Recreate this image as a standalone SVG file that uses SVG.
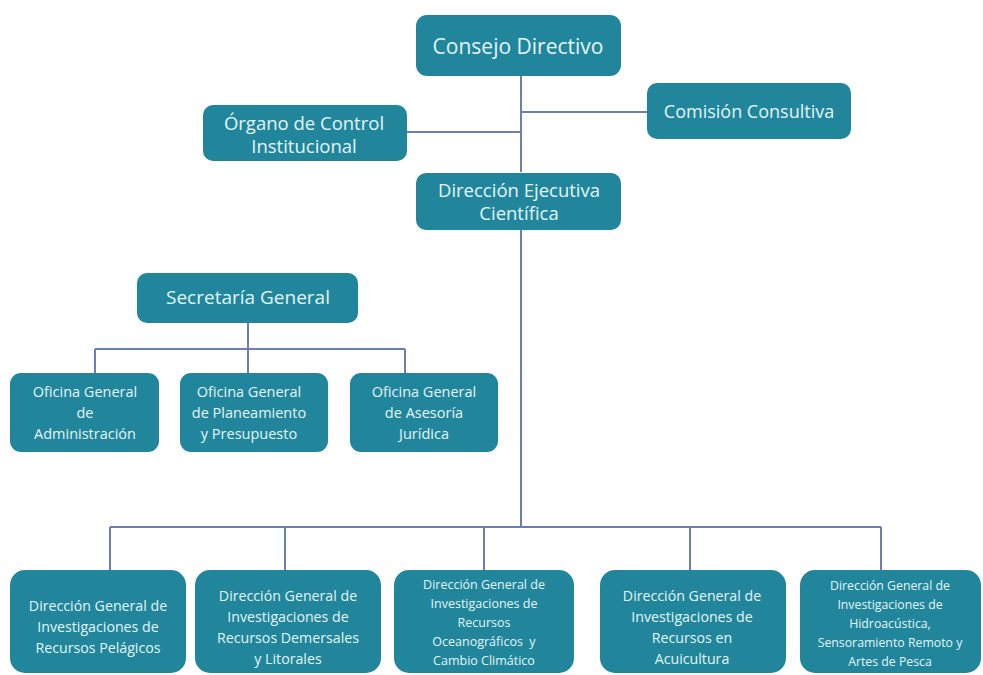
<svg xmlns="http://www.w3.org/2000/svg" width="983" height="675" viewBox="0 0 983 675">
<style>
.box{fill:#21869b;}
.t{font-family:"Open Sans","Noto Sans",sans-serif;fill:#e2f5f7;text-anchor:middle;}
.l{font-size:18.5px;}
.m{font-size:14.5px;}
.s{font-size:14.2px;}
.xs{font-size:12.5px;}
.c{stroke:#6d7db5;stroke-width:2;fill:none;}
</style>
<rect width="983" height="675" fill="#ffffff"/>
<g id="connectors" class="c">
<path d="M521 76 V172 M521 230 V527"/>
<path d="M521 112 H648"/>
<path d="M406 132 H521"/>
<path d="M248 323 V349 M95 349 H405 M95 349 V373 M248 349 V373 M405 349 V373"/>
<path d="M110 527 H881 M110 527 V570 M285 527 V570 M484 527 V570 M690 527 V570 M881 527 V570"/>
</g>
<g id="consejo">
<rect class="box" x="416" y="15" width="205" height="61" rx="11"/>
<text class="t" x="518" y="54" style="font-size:21px">Consejo Directivo</text>
</g>
<g id="comision">
<rect class="box" x="647" y="83" width="204" height="56" rx="10"/>
<text class="t" x="749" y="118" style="font-size:18px">Comisión Consultiva</text>
</g>
<g id="organo">
<rect class="box" x="203" y="105" width="204" height="56" rx="10"/>
<text class="t l" x="304" y="130">Órgano de Control</text>
<text class="t l" x="304" y="153">Institucional</text>
</g>
<g id="direccion-ejecutiva">
<rect class="box" x="416" y="173" width="205" height="57" rx="10"/>
<text class="t l" x="519" y="197">Dirección Ejecutiva</text>
<text class="t l" x="519" y="220">Científica</text>
</g>
<g id="secretaria">
<rect class="box" x="137" y="273" width="221" height="50" rx="10"/>
<text class="t" x="248" y="304" style="font-size:19px">Secretaría General</text>
</g>
<g id="of-administracion">
<rect class="box" x="10" y="373" width="149" height="79" rx="11"/>
<text class="t m" x="85" y="397">Oficina General</text>
<text class="t m" x="85" y="418">de</text>
<text class="t m" x="85" y="439">Administración</text>
</g>
<g id="of-planeamiento">
<rect class="box" x="180" y="373" width="148" height="79" rx="11"/>
<text class="t m" x="249" y="397">Oficina General</text>
<text class="t m" x="249" y="418">de Planeamiento</text>
<text class="t m" x="249" y="439">y Presupuesto</text>
</g>
<g id="of-asesoria">
<rect class="box" x="350" y="373" width="148" height="79" rx="11"/>
<text class="t m" x="424" y="397">Oficina General</text>
<text class="t m" x="424" y="418">de Asesoría</text>
<text class="t m" x="424" y="439">Jurídica</text>
</g>
<g id="dg-pelagicos">
<rect class="box" x="10" y="570" width="176" height="103" rx="15"/>
<text class="t s" x="98" y="611">Dirección General de</text>
<text class="t s" x="98" y="632">Investigaciones de</text>
<text class="t s" x="98" y="653">Recursos Pelágicos</text>
</g>
<g id="dg-demersales">
<rect class="box" x="195" y="570" width="186" height="103" rx="15"/>
<text class="t s" x="288" y="601">Dirección General de</text>
<text class="t s" x="288" y="622">Investigaciones de</text>
<text class="t s" x="288" y="643">Recursos Demersales</text>
<text class="t s" x="288" y="664">y Litorales</text>
</g>
<g id="dg-oceanograficos">
<rect class="box" x="394" y="570" width="180" height="103" rx="15"/>
<text class="t xs" x="484" y="589">Dirección General de</text>
<text class="t xs" x="484" y="608">Investigaciones de</text>
<text class="t xs" x="484" y="627">Recursos</text>
<text class="t xs" x="484" y="646">Oceanográficos&#160; y</text>
<text class="t xs" x="484" y="665">Cambio Climático</text>
</g>
<g id="dg-acuicultura">
<rect class="box" x="600" y="570" width="186" height="103" rx="15"/>
<text class="t s" x="692" y="601">Dirección General de</text>
<text class="t s" x="692" y="622">Investigaciones de</text>
<text class="t s" x="692" y="643">Recursos en</text>
<text class="t s" x="692" y="664">Acuicultura</text>
</g>
<g id="dg-hidroacustica">
<rect class="box" x="800" y="570" width="181" height="103" rx="15"/>
<text class="t" x="890" y="590" style="font-size:12.3px">Dirección General de</text>
<text class="t" x="890" y="609" style="font-size:12.3px">Investigaciones de</text>
<text class="t" x="890" y="628" style="font-size:12.3px">Hidroacústica,</text>
<text class="t" x="890" y="647" style="font-size:12.3px">Sensoramiento Remoto y</text>
<text class="t" x="890" y="666" style="font-size:12.3px">Artes de Pesca</text>
</g>
</svg>
